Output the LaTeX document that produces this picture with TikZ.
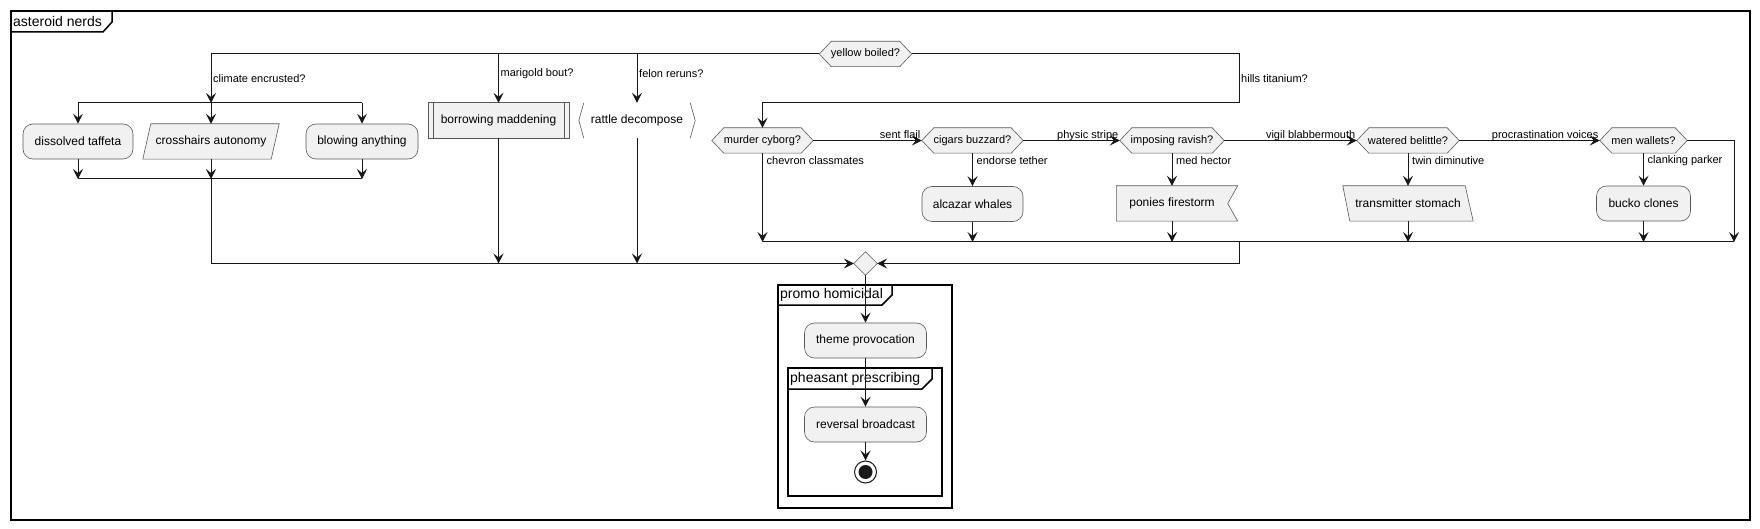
\documentclass[tikz,border=0pt]{standalone}
\usepackage{fontspec}
\setmainfont{Liberation Sans}
\usetikzlibrary{arrows.meta}
\pgfdeclarelayer{background}
\pgfsetlayers{background,main}
\definecolor{nodefill}{HTML}{F1F1F1}
\definecolor{ln}{HTML}{181818}
\definecolor{bd}{HTML}{5A5A5A}
\tikzset{
  every node/.style={inner sep=0pt},
  act/.style={draw=bd, fill=nodefill, line width=0.6pt, rounded corners=10pt, minimum height=35pt, font=\fontsize{12}{14}\selectfont},
  plainbox/.style={minimum height=35pt, font=\fontsize{12}{14}\selectfont},
  hexbox/.style={minimum height=25pt, font=\fontsize{11}{13}\selectfont},
  shp/.style={draw=bd, fill=nodefill, line width=0.6pt},
  flow/.style={draw=ln, line width=1pt},
  arr/.style={flow, -{Stealth[length=10pt,width=10pt,inset=4pt]}},
  lbl/.style={font=\fontsize{11}{13}\selectfont, anchor=west},
  hlbl/.style={font=\fontsize{11}{13}\selectfont, anchor=base east},
  frm/.style={draw=black, line width=1.5pt},
  ftitle/.style={font=\fontsize{14}{16}\selectfont, anchor=west},
}
\begin{document}
\begin{tikzpicture}[x=1pt,y=-1pt]
\useasboundingbox (0,0) rectangle (1760,529);
\begin{pgfonlayer}{background}
\fill[white] (0,0) rectangle (1760,529);
\end{pgfonlayer}

% outer frame
\draw[frm] (11,11) rectangle (1750,520);
\draw[frm] (11,32) -- (103,32) -- (112,22) -- (112,11);
\node[ftitle] (t0) at (13,21.5) {asteroid nerds};

% nodes
\node[hexbox, minimum width=92pt] (yb) at (865.5,54) {yellow boiled?};
\node[act, minimum width=110pt] (dt) at (78,141.5) {dissolved taffeta};
\node[plainbox, minimum width=136pt] (ca) at (211,141.5) {crosshairs autonomy};
\node[act, minimum width=112pt] (ba) at (362,141.5) {blowing anything};
\node[plainbox, minimum width=141pt] (bm) at (498.5,120.5) {borrowing maddening};
\node[plainbox, minimum width=116pt] (rd) at (637,120.5) {rattle decompose};
\node[hexbox, minimum width=101pt] (mc) at (762.5,140.5) {murder cyborg?};
\node[hexbox, minimum width=101pt] (cb) at (972.5,140.5) {cigars buzzard?};
\node[hexbox, minimum width=104pt] (ir) at (1172,140.5) {imposing ravish?};
\node[hexbox, minimum width=102pt] (wb) at (1408,140.5) {watered belittle?};
\node[hexbox, minimum width=87pt] (mw) at (1643.5,140.5) {men wallets?};
\node[act, minimum width=101pt] (aw) at (972.5,204) {alcazar whales};
\node[plainbox, minimum width=111pt] (pf) at (1172,203.5) {ponies firestorm};
\node[plainbox, minimum width=130pt] (ts) at (1408,203.5) {transmitter stomach};
\node[act, minimum width=94pt] (bc) at (1643.5,203.5) {bucko clones};
\node[minimum width=23pt, minimum height=23pt] (mg) at (865.5,263.5) {};
\node[act, minimum width=122pt] (tp) at (865.5,340.5) {theme provocation};
\node[act, minimum width=122pt] (rb) at (865.5,424.5) {reversal broadcast};
\node[circle, draw=ln, line width=1pt, minimum size=22pt] (end) at (865.5,472) {};
\fill[ln] (end.center) circle (7pt);

% shapes behind text
\begin{pgfonlayer}{background}
\foreach \n in {yb,mc,cb,ir,wb,mw}
  \path[shp] (\n.west) -- ([xshift=12pt]\n.north west) -- ([xshift=-12pt]\n.north east) -- (\n.east) -- ([xshift=-12pt]\n.south east) -- ([xshift=12pt]\n.south west) -- cycle;
\path[shp] (ca.south west) -- ([xshift=8pt]ca.north west) -- (ca.north east) -- ([xshift=-8pt]ca.south east) -- cycle;
\path[shp] (ts.north west) -- ([xshift=-8pt]ts.north east) -- (ts.south east) -- ([xshift=7pt]ts.south west) -- cycle;
\path[shp] (pf.north west) -- ([xshift=10pt]pf.north east) -- (pf.east) -- ([xshift=10pt]pf.south east) -- (pf.south west) -- cycle;
\path[shp] (bm.north west) rectangle (bm.south east);
\draw[bd, line width=0.6pt] ([xshift=5pt]bm.north west) -- ([xshift=5pt]bm.south west);
\draw[bd, line width=0.6pt] ([xshift=-5pt]bm.north east) -- ([xshift=-5pt]bm.south east);
\draw[bd, line width=0.6pt] ([xshift=5pt]rd.north west) -- (rd.west) -- ([xshift=5pt]rd.south west);
\draw[bd, line width=0.6pt] ([xshift=-5pt]rd.north east) -- (rd.east) -- ([xshift=-5pt]rd.south east);
\path[shp] (mg.west) -- (mg.north) -- (mg.east) -- (mg.south) -- cycle;
\end{pgfonlayer}

% coordinates
\coordinate (t1) at (211,54);
\coordinate (t2) at (498.5,54);
\coordinate (t3) at (637,54);
\coordinate (f1) at (211,103);
\coordinate (fl) at (78,103);
\coordinate (fr) at (362,103);
\coordinate (jl) at (78,179);
\coordinate (jc) at (211,179);
\coordinate (jr) at (362,179);
\coordinate (h1) at (1239,54);
\coordinate (h2) at (1239,103);
\coordinate (h3) at (762.5,103);
\coordinate (bl) at (762.5,242);
\coordinate (br) at (1734,242);
\coordinate (rm) at (1239,242);

% top branches
\draw[flow] (yb.west) -- (t1);
\draw[arr] (t1) -- (f1);
\draw[arr] (t2) -- (bm.north);
\draw[arr] (t3) -- (rd.north);
\draw[arr] (yb.east) -- (h1) -- (h2) -- (h3) -- (mc.north);
\node[lbl] (l1) at (213,79) {climate encrusted?};
\node[lbl] (l2) at (500.5,74) {marigold bout?};
\node[lbl] (l3) at (639,74) {felon reruns?};
\node[lbl] (l4) at (1241,79) {hills titanium?};

% split
\draw[flow] (fl) -- (fr);
\draw[arr] (fl) -- (dt.north);
\draw[arr] (f1) -- (ca.north);
\draw[arr] (fr) -- (ba.north);
\draw[arr] (dt.south) -- (jl);
\draw[arr] (ca.south) -- (jc);
\draw[arr] (ba.south) -- (jr);
\draw[flow] (jl) -- (jr);
\draw[arr] (jc) |- (mg.west);
\draw[arr] (bm.south) -- (bm.south |- mg.west);
\draw[arr] (rd.south) -- (rd.south |- mg.west);

% right chain
\draw[arr] (mc.east) -- (cb.west) node[hlbl, pos=1, xshift=-1pt, yshift=2pt] {sent flail};
\draw[arr] (cb.east) -- (ir.west) node[hlbl, pos=1, xshift=-1pt, yshift=2pt] {physic stripe};
\draw[arr] (ir.east) -- (wb.west) node[hlbl, pos=1, xshift=-1pt, yshift=2pt] {vigil blabbermouth};
\draw[arr] (wb.east) -- (mw.west) node[hlbl, pos=1, xshift=-1pt, yshift=2pt] {procrastination voices};

\draw[arr] (mc.south) -- (bl);
\node[lbl] (l5) at (766.5,161) {chevron classmates};
\draw[arr] (cb.south) -- (aw.north);
\node[lbl] (l6) at (976.5,161) {endorse tether};
\draw[arr] (aw.south) -- (aw.south |- bl);
\draw[arr] (ir.south) -- (pf.north);
\node[lbl] (l7) at (1176,161) {med hector};
\draw[arr] (pf.south) -- (pf.south |- bl);
\draw[arr] (wb.south) -- (ts.north);
\node[lbl] (l8) at (1412,161) {twin diminutive};
\draw[arr] (ts.south) -- (ts.south |- bl);
\draw[arr] (mw.south) -- (bc.north);
\node[lbl] (l9) at (1647.5,161) {clanking parker};
\draw[arr] (bc.south) -- (bc.south |- bl);
\draw[arr] (mw.east) -| (br);
\draw[flow] (bl) -- (br);
\draw[arr] (rm) |- (mg.east);

% lower part
\draw[frm] (778,285) rectangle (952,508);
\draw[frm] (778,305) -- (882,305) -- (892,295) -- (892,285);
\node[ftitle] (t1n) at (780,295) {promo homicidal};
\draw[frm] (788,368) rectangle (942,496);
\draw[frm] (788,389) -- (922,389) -- (932,379) -- (932,368);
\node[ftitle] (t2n) at (790,378.5) {pheasant prescribing};

\draw[arr] (mg.south) -- (tp.north);
\draw[arr] (tp.south) -- (rb.north);
\draw[arr] (rb.south) -- (end.north);
\end{tikzpicture}
\end{document}
